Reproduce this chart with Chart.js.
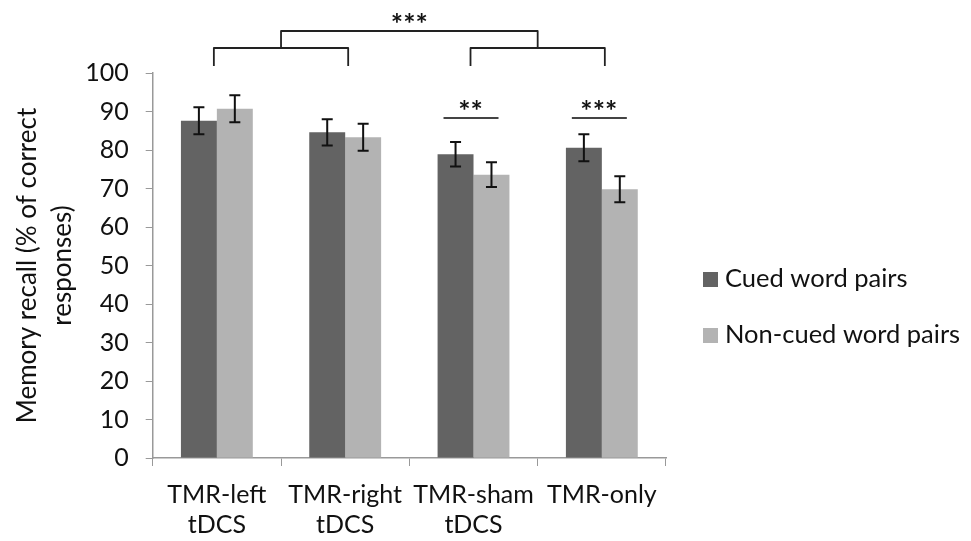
<!DOCTYPE html>
<html>
<head>
<meta charset="utf-8">
<script src="https://cdn.jsdelivr.net/npm/chart.js@4.4.1/dist/chart.umd.min.js"></script>
<style>
  html, body { margin: 0; padding: 0; background: #fff; }
  #wrap { width: 971px; height: 541px; }
</style>
</head>
<body>
<div id="wrap"><canvas id="recallChart" width="971" height="541"></canvas></div>
<script>
const categories = [['TMR-left', 'tDCS'], ['TMR-right', 'tDCS'], ['TMR-sham', 'tDCS'], ['TMR-only']];
const cued = [87.6, 84.6, 78.9, 80.6];
const cuedErr = [3.5, 3.4, 3.2, 3.5];
const nonCued = [90.7, 83.3, 73.6, 69.8];
const nonCuedErr = [3.5, 3.5, 3.2, 3.4];
const seriesNames = ['Cued word pairs', 'Non-cued word pairs'];
const seriesColors = ['#636363', '#b3b3b3'];
// within-group significance: category index, stars, line level (%)
const pairSig = [{ cat: 2, label: '**', level: 88.3 }, { cat: 3, label: '***', level: 88.3 }];
// tDCS groups vs. no-tDCS groups
const groupSig = { left: [0, 1], right: [2, 3], label: '***' };

const FONT = 'Lato, "Open Sans", sans-serif';
const errors = [cuedErr, nonCuedErr];

// error bars drawn from each bar element
const errorBars = {
    id: 'errorBars',
    afterDatasetsDraw(chart) {
        const ctx = chart.ctx;
        const y = chart.scales.y;
        ctx.save();
        ctx.strokeStyle = '#111';
        ctx.lineWidth = 2;
        chart.data.datasets.forEach((ds, di) => {
            chart.getDatasetMeta(di).data.forEach((bar, i) => {
                const top = y.getPixelForValue(ds.data[i] + errors[di][i]);
                const bot = y.getPixelForValue(ds.data[i] - errors[di][i]);
                ctx.beginPath();
                ctx.moveTo(bar.x, top); ctx.lineTo(bar.x, bot);
                ctx.moveTo(bar.x - 5.5, top); ctx.lineTo(bar.x + 5.5, top);
                ctx.moveTo(bar.x - 5.5, bot); ctx.lineTo(bar.x + 5.5, bot);
                ctx.stroke();
            });
        });
        ctx.restore();
    }
};

const sigMarks = {
    id: 'sigMarks',
    afterDraw(chart) {
        const ctx = chart.ctx;
        const x = chart.scales.x;
        const y = chart.scales.y;
        const top = chart.chartArea.top;
        ctx.save();
        ctx.fillStyle = '#111';
        ctx.font = 'bold 29px ' + FONT;
        ctx.textAlign = 'center';
        ctx.textBaseline = 'alphabetic';

        // pair lines
        ctx.strokeStyle = '#444';
        ctx.lineWidth = 2;
        pairSig.forEach(s => {
            const cx = x.getPixelForValue(s.cat);
            const ly = y.getPixelForValue(s.level);
            ctx.beginPath();
            ctx.moveTo(cx - 30, ly); ctx.lineTo(cx + 25, ly);
            ctx.stroke();
            ctx.fillText(s.label, cx - 3, ly + 3);
        });

        // group brackets
        ctx.strokeStyle = '#222';
        ctx.lineWidth = 1.8;
        ctx.lineJoin = 'round';
        const legY = top - 7;
        const lowY = top - 25;
        const highY = top - 42;
        const mids = [groupSig.left, groupSig.right].map(g => {
            const a = x.getPixelForValue(g[0]) - 3;
            const b = x.getPixelForValue(g[1]) + 3;
            ctx.beginPath();
            ctx.moveTo(a, legY); ctx.lineTo(a, lowY); ctx.lineTo(b, lowY); ctx.lineTo(b, legY);
            ctx.stroke();
            return (a + b) / 2;
        });
        ctx.beginPath();
        ctx.moveTo(mids[0], lowY); ctx.lineTo(mids[0], highY);
        ctx.lineTo(mids[1], highY); ctx.lineTo(mids[1], lowY);
        ctx.stroke();
        ctx.fillText(groupSig.label, (mids[0] + mids[1]) / 2, highY + 3);

        // legend
        ctx.font = '25.5px ' + FONT;
        ctx.textAlign = 'left';
        seriesNames.forEach((name, i) => {
            const by = 272 + i * 56;
            ctx.fillStyle = seriesColors[i];
            ctx.fillRect(703, by, 15, 15);
            ctx.fillStyle = '#111';
            ctx.fillText(name, 725, by + 15);
        });
        ctx.restore();
    }
};

const ctx = document.getElementById('recallChart').getContext('2d');
const recallChart = new Chart(ctx, {
    type: 'bar',
    data: {
        labels: categories,
        datasets: [
            { label: seriesNames[0], data: cued, backgroundColor: seriesColors[0] },
            { label: seriesNames[1], data: nonCued, backgroundColor: seriesColors[1] }
        ]
    },
    options: {
        responsive: false,
        animation: false,
        layout: { padding: { top: 73, right: 305, left: 10, bottom: -13 } },
        categoryPercentage: 0.56,
        barPercentage: 1.0,
        plugins: {
            legend: { display: false },
            tooltip: { enabled: false }
        },
        scales: {
            x: {
                grid: { drawOnChartArea: false, color: '#999', tickLength: 8, offset: true },
                border: { color: '#999', width: 1.5 },
                ticks: { color: '#111', font: { family: FONT, size: 25, lineHeight: 1.2 }, padding: 14 }
            },
            y: {
                min: 0,
                max: 100,
                grid: { drawOnChartArea: false, color: '#999', tickLength: 7 },
                border: { color: '#999', width: 1.5 },
                ticks: { stepSize: 10, color: '#111', font: { family: FONT, size: 25 }, padding: 17 },
                title: {
                    display: true,
                    text: ['Memory recall (% of correct', 'responses)'],
                    color: '#111',
                    font: { family: FONT, size: 26, lineHeight: 1.35 },
                    padding: { top: 0, bottom: -12 }
                }
            }
        }
    },
    plugins: [errorBars, sigMarks]
});
</script>
</body>
</html>
